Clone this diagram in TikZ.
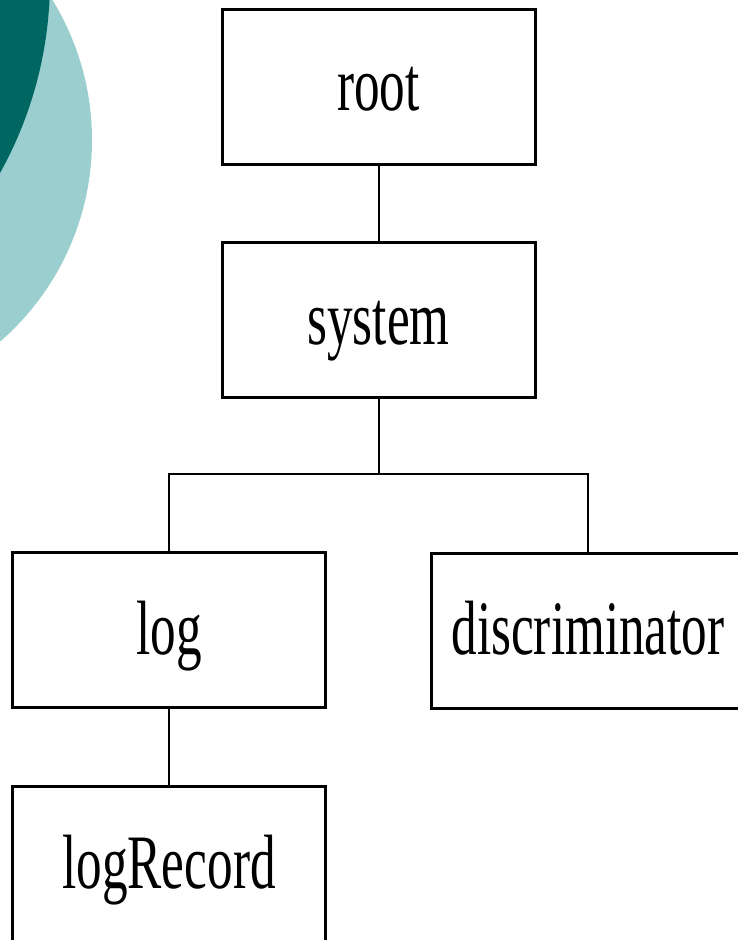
\documentclass[tikz,border=0pt]{standalone}
\usepackage{fontspec}
\newfontfamily\boxfont[FakeStretch=0.665]{Liberation Serif}
\definecolor{tealdark}{RGB}{0,102,98}
\definecolor{teallight}{RGB}{155,206,206}
\usetikzlibrary{positioning, calc}

\begin{document}
\begin{tikzpicture}[x=1pt, y=-1pt, box/.style={draw, line width=3pt, fill=white, minimum width=313pt, minimum height=155pt, inner sep=0pt, text height=56pt, text depth=8pt, font=\boxfont\fontsize{77}{80}\selectfont}, link/.style={line width=2pt}]
  \useasboundingbox (0,0) rectangle (738,940);
  \clip (0,0) rectangle (738,940);
  % slide decoration
  \fill[teallight] (-175,140) circle (267);
  \fill[tealdark] (-347,-20) circle (397);

  \node[box] (root) at (378.5,86.5) {root};
  \node[box] (system) at (378.5,320) {system};
  \node[box] (log) at (169,630) {log};
  \node[box] (disc) at (588,630.5) {discriminator};
  \node[box] (record) at (169,864) {logRecord};
  \coordinate (branch) at (378.5,474);

  \draw[link] (root) -- (system);
  \draw[link] (system) -- (branch);
  \draw[link] (log.north) |- (branch) -| (disc.north);
  \draw[link] (log) -- (record);
\end{tikzpicture}
\end{document}
